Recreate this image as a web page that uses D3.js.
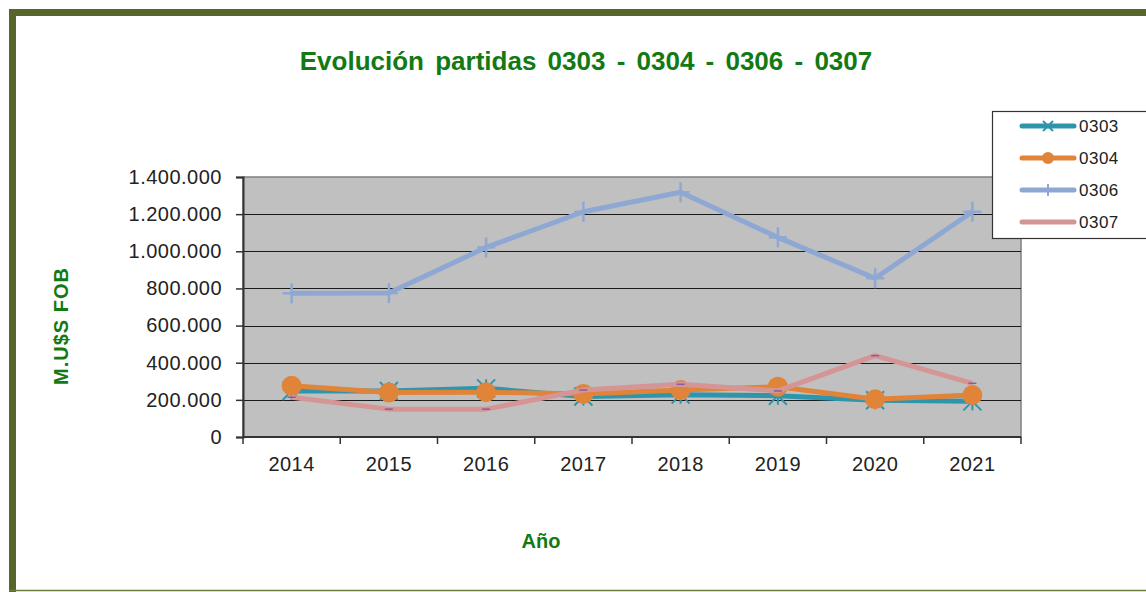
<!DOCTYPE html>
<html><head><meta charset="utf-8">
<script src="https://cdn.jsdelivr.net/npm/d3@7"></script>
<style>html,body{margin:0;padding:0;background:#fff;overflow:hidden}</style>
</head><body><svg id="c" width="1146" height="592"></svg>
<script>
const years = ["2014","2015","2016","2017","2018","2019","2020","2021"];
const s0303 = [248000, 248000, 262000, 218000, 228000, 222000, 198000, 192000];
const s0304 = [276000, 239000, 241000, 232000, 253000, 271000, 203000, 226000];
const s0306 = [774000, 775000, 1021000, 1213000, 1318000, 1075000, 855000, 1213000];
const s0307 = [214000, 150000, 150000, 253000, 284000, 248000, 438000, 289000];
const yTicks = [0, 200000, 400000, 600000, 800000, 1000000, 1200000, 1400000];
const seriesNames = ["0303","0304","0306","0307"];
const seriesColors = ["#2e95ad","#e0843a","#8fa8d3","#d59595"];
const seriesData = [s0303, s0304, s0306, s0307];
const FONT = "Liberation Sans, Arial, sans-serif";

const svg = d3.select("#c");
// outer frame
svg.append("rect").attr("x",12.5).attr("y",12.5).attr("width",1160).attr("height",600)
  .attr("fill","#fff").attr("stroke","#55652c").attr("stroke-width",7);
svg.append("line").attr("x1",9).attr("x2",1146).attr("y1",590.5).attr("y2",590.5).attr("stroke","#6b7d3f").attr("stroke-width",1.5);

const L=243, R=1021, T=177, B=437;
const x = d3.scaleBand().domain(years).range([L,R]);
const y = d3.scaleLinear().domain([0,1400000]).range([B,T]);
const fmt = v => d3.format(",")(v).replace(/,/g,".");

svg.append("rect").attr("x",L).attr("y",T).attr("width",R-L).attr("height",B-T)
  .attr("fill","#c0c0c0").attr("stroke","#808080").attr("stroke-width",1.5);
svg.append("g").selectAll("line").data(yTicks.slice(1,-1)).join("line")
  .attr("x1",L).attr("x2",R).attr("y1",d=>Math.round(y(d))+0.5).attr("y2",d=>Math.round(y(d))+0.5)
  .attr("stroke","#1a1a1a").attr("stroke-width",1.2);

const yAxis = svg.append("g").attr("transform",`translate(${L},0)`)
  .call(d3.axisLeft(y).tickValues(yTicks).tickFormat(fmt).tickSize(7).tickPadding(14));
const xAxis = svg.append("g").attr("transform",`translate(0,${B})`)
  .call(d3.axisBottom(x).tickSize(0).tickPadding(20));
[yAxis,xAxis].forEach(a=>{
  a.selectAll("text").attr("font-family",FONT).attr("font-size","20px").attr("letter-spacing","0.5px").attr("fill","#222");
  a.select(".domain").attr("stroke","#333").attr("stroke-width",2);
  a.selectAll(".tick line").attr("stroke","#333").attr("stroke-width",1.5);
});
xAxis.select(".domain").attr("d",`M${L},0H${R}`);
// x ticks between categories
svg.append("g").selectAll("line").data(years.concat(["end"])).join("line")
  .attr("x1",(d,i)=>L+i*x.step()).attr("x2",(d,i)=>L+i*x.step())
  .attr("y1",B).attr("y2",B+7).attr("stroke","#333").attr("stroke-width",1.5);

const cx = d => x(d)+x.bandwidth()/2;
const line = d3.line().x((d,i)=>cx(years[i])).y(d=>y(d));
const order = [2,0,1,3];
order.forEach(k=>{
  const g = svg.append("g");
  g.append("path").datum(seriesData[k]).attr("d",line).attr("fill","none")
    .attr("stroke",seriesColors[k]).attr("stroke-width",5).attr("stroke-linejoin","round");
  seriesData[k].forEach((v,i)=>{
    const px=cx(years[i]), py=y(v);
    if(k===0){
      [[-9,-9],[9,-9],[-9,9],[9,9]].forEach(o=>g.append("line").attr("x1",px).attr("y1",py).attr("x2",px+o[0]).attr("y2",py+o[1]).attr("stroke",seriesColors[0]).attr("stroke-width",2));
      g.append("line").attr("x1",px).attr("x2",px).attr("y1",py-9).attr("y2",py+9).attr("stroke",seriesColors[0]).attr("stroke-width",2);
    } else if(k===1){
      g.append("circle").attr("cx",px).attr("cy",py).attr("r",10).attr("fill",seriesColors[1]);
    } else if(k===2){
      g.append("line").attr("x1",px-9).attr("x2",px+9).attr("y1",py).attr("y2",py).attr("stroke",seriesColors[2]).attr("stroke-width",2.5);
      g.append("line").attr("x1",px).attr("x2",px).attr("y1",py-10).attr("y2",py+10).attr("stroke",seriesColors[2]).attr("stroke-width",2.5);
    } else {
      g.append("line").attr("x1",px-4).attr("x2",px+4).attr("y1",py).attr("y2",py).attr("stroke","#8a5a9a").attr("stroke-width",1.5);
    }
  });
});

// title and axis labels
svg.append("text").attr("x",586).attr("y",70).attr("text-anchor","middle")
  .attr("font-family",FONT).attr("font-weight","bold").attr("font-size","26px")
  .attr("word-spacing","4px").attr("fill","#137a13").text("Evolución partidas 0303 - 0304 - 0306 - 0307");
svg.append("text").attr("transform","translate(68,326) rotate(-90)").attr("text-anchor","middle")
  .attr("font-family",FONT).attr("font-weight","bold").attr("font-size","20px").attr("letter-spacing","1px")
  .attr("fill","#137a13").text("M.U$S FOB");
svg.append("text").attr("x",541).attr("y",548).attr("text-anchor","middle")
  .attr("font-family",FONT).attr("font-weight","bold").attr("font-size","20px")
  .attr("fill","#137a13").text("Año");

// legend
const lg = svg.append("g");
lg.append("rect").attr("x",992.5).attr("y",111.5).attr("width",170).attr("height",127)
  .attr("fill","#fff").attr("stroke","#333").attr("stroke-width",1.2);
seriesNames.forEach((n,i)=>{
  const ly = 126 + i*32;
  lg.append("line").attr("x1",1022).attr("x2",1074).attr("y1",ly).attr("y2",ly)
    .attr("stroke",seriesColors[i]).attr("stroke-width",5).attr("stroke-linecap","round");
  const mx=1048;
  if(i===0){
    [[-5,-5],[5,-5],[-5,5],[5,5]].forEach(o=>lg.append("line").attr("x1",mx).attr("y1",ly).attr("x2",mx+o[0]).attr("y2",ly+o[1]).attr("stroke",seriesColors[0]).attr("stroke-width",2));
  } else if(i===1){
    lg.append("circle").attr("cx",mx).attr("cy",ly).attr("r",6).attr("fill",seriesColors[1]);
  } else if(i===2){
    lg.append("line").attr("x1",mx).attr("x2",mx).attr("y1",ly-6).attr("y2",ly+6).attr("stroke",seriesColors[2]).attr("stroke-width",2);
  }
  lg.append("text").attr("x",1079).attr("y",ly+6).attr("font-family",FONT)
    .attr("font-size","17px").attr("letter-spacing","0.5px").attr("fill","#222").text(n);
});
</script></body></html>
